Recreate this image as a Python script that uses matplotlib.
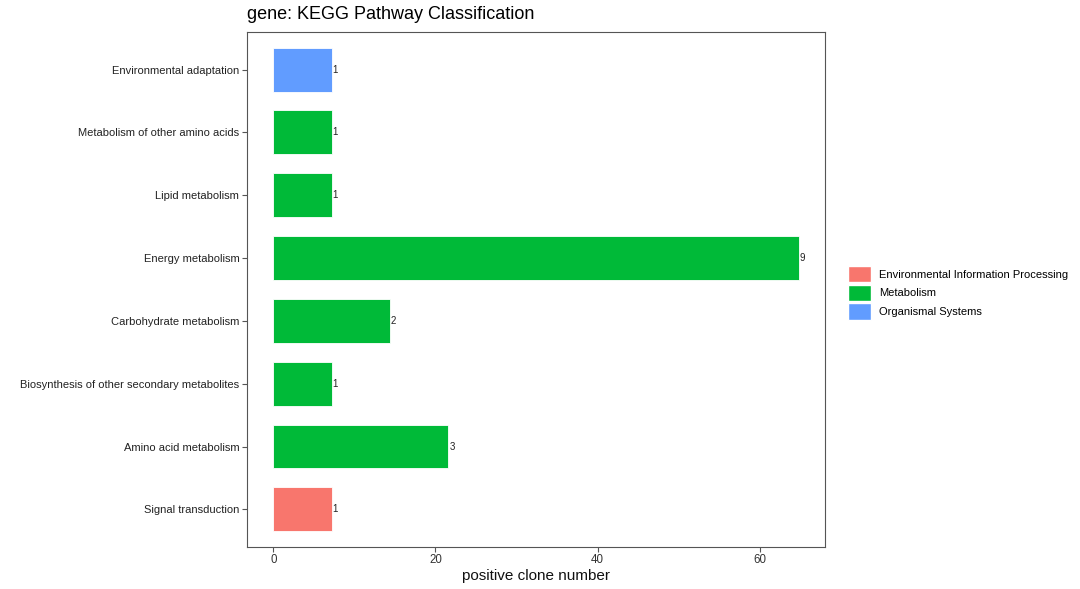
import matplotlib
matplotlib.use("Agg")
import matplotlib.pyplot as plt
from matplotlib.patches import Patch

plt.rcParams['font.family'] = ['Liberation Sans', 'DejaVu Sans']

# bottom to top
pathways = ['Signal transduction', 'Amino acid metabolism',
            'Biosynthesis of other secondary metabolites', 'Carbohydrate metabolism',
            'Energy metabolism', 'Lipid metabolism',
            'Metabolism of other amino acids', 'Environmental adaptation']
classes = ['Environmental Information Processing', 'Metabolism', 'Metabolism',
           'Metabolism', 'Metabolism', 'Metabolism', 'Metabolism', 'Organismal Systems']
counts = [1, 3, 1, 2, 9, 1, 1, 1]
values = [7.2, 21.6, 7.2, 14.4, 64.8, 7.2, 7.2, 7.2]

class_names = ['Environmental Information Processing', 'Metabolism', 'Organismal Systems']
class_colors = {'Environmental Information Processing': '#F8766D',
                'Metabolism': '#00BA38',
                'Organismal Systems': '#619CFF'}

fig = plt.figure(figsize=(10.8, 5.89), dpi=100)
ax = fig.add_axes([0.2287, 0.0713, 0.5352, 0.8744])

y = range(len(pathways))
ax.barh(y, values, height=0.7, color=[class_colors[c] for c in classes],
        edgecolor='#ffffff', linewidth=0.6)
for i, (v, n) in enumerate(zip(values, counts)):
    ax.text(v + 0.1, i, str(n), va='center', ha='left', fontsize=7, color='#222222')

ax.set_yticks(list(y))
ax.set_yticklabels(pathways, fontsize=8, color='#222222')
ax.set_xticks([0, 20, 40, 60])
ax.tick_params(axis='x', labelsize=8.3, labelcolor='#333333', pad=1.5)
ax.tick_params(axis='y', pad=2)
ax.tick_params(color='#555555', length=3.5, width=0.8)
ax.set_xlim(-3.24, 68.04)
ax.set_ylim(-0.6, len(pathways) - 0.4)
for s in ax.spines.values():
    s.set_color('#555555')
    s.set_linewidth(0.8)

ax.set_xlabel('positive clone number', fontsize=11, color='#111111', labelpad=2)
ax.set_title('gene: KEGG Pathway Classification', fontsize=13, loc='left',
             x=0.0, y=1.0, pad=9)

handles = [Patch(facecolor=class_colors[c], edgecolor='#ffffff', label=c) for c in class_names]
fig.legend(handles=handles, loc='center left', bbox_to_anchor=(0.781, 0.503),
           frameon=False, fontsize=8, handlelength=2.1, handleheight=1.9,
           handletextpad=0.7, labelspacing=0.2, borderaxespad=0)

fig.savefig('out.png', dpi=100, facecolor='white')
